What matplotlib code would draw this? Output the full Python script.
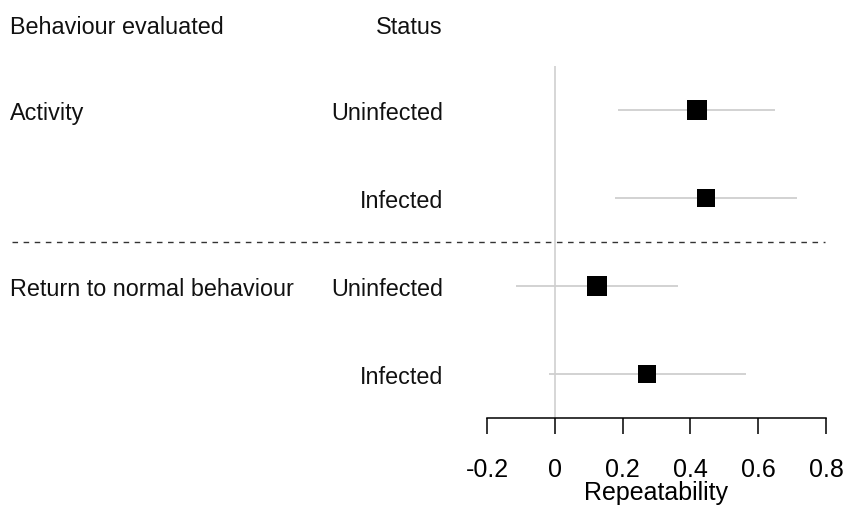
import numpy as np
import matplotlib
matplotlib.use("Agg")
import matplotlib.pyplot as plt
from matplotlib.transforms import blended_transform_factory

plt.rcParams["font.family"] = ["Liberation Sans", "DejaVu Sans"]

# repeatability estimates with 95% intervals, top to bottom
behaviour = ["Activity", "", "Return to normal behaviour", ""]
status = ["Uninfected", "Infected", "Uninfected", "Infected"]
estimate = [0.418, 0.445, 0.124, 0.273]
lower = [0.187, 0.177, -0.115, -0.017]
upper = [0.651, 0.715, 0.362, 0.565]
xticks = [-0.2, 0, 0.2, 0.4, 0.6, 0.8]

DPI = 100
fig = plt.figure(figsize=(845 / DPI, 511 / DPI), dpi=DPI)
W, H = 845, 511
ax = fig.add_axes([487 / W, 1 - 418 / H, (826 - 487) / W, (418 - 66) / H])

rows = np.arange(len(status))
ax.set_xlim(-0.2, 0.8)
ax.set_ylim(len(status) - 0.5, -0.5)

GREY = "#cfcfcf"
ax.axvline(0, color=GREY, lw=1.2, zorder=1)

# box side scales with sqrt of precision, as in forestplot
width = np.array(upper) - np.array(lower)
side_px = 20 * np.sqrt(width.min() / width)
for i in rows:
    ax.plot([lower[i], upper[i]], [i, i], color=GREY, lw=1.3,
            solid_capstyle="butt", zorder=2)
    ax.plot(estimate[i], i, marker="s", ms=side_px[i] * 0.72, color="black",
            mec="black", mew=0, zorder=3)

for s in ["top", "right", "left"]:
    ax.spines[s].set_visible(False)
ax.spines["bottom"].set_linewidth(1.1)
ax.set_yticks([])
ax.set_xticks(xticks)
ax.set_xticklabels(["-0.2", "0", "0.2", "0.4", "0.6", "0.8"])
ax.tick_params(axis="x", direction="out", length=11.5, width=1.1,
               labelsize=18, pad=17.5)
ax.set_xlabel("Repeatability", fontsize=18, labelpad=-1)

# label columns, placed in figure x and data y
tr = blended_transform_factory(fig.transFigure, ax.transData)
off = 0.11
fig.text(10 / W, -1 + 0.14, "Behaviour evaluated", transform=tr,
         fontsize=16.8, ha="left", va="baseline", color="#111111")
fig.text(443 / W, -1 + 0.14, "Status", transform=tr,
         fontsize=16.8, ha="right", va="baseline", color="#111111")
for i in rows:
    fig.text(10 / W, i + off, behaviour[i], transform=tr, fontsize=16.8,
             ha="left", va="baseline", color="#111111")
    fig.text(443 / W, i + off, status[i], transform=tr, fontsize=16.8,
             ha="right", va="baseline", color="#111111")

# separator between behaviours
fig.add_artist(plt.Line2D([12 / W, 825 / W], [1.5, 1.5], transform=tr,
                          color="#333333", lw=1.0, ls=(0, (4, 4))))

fig.savefig("out.png", dpi=DPI)
